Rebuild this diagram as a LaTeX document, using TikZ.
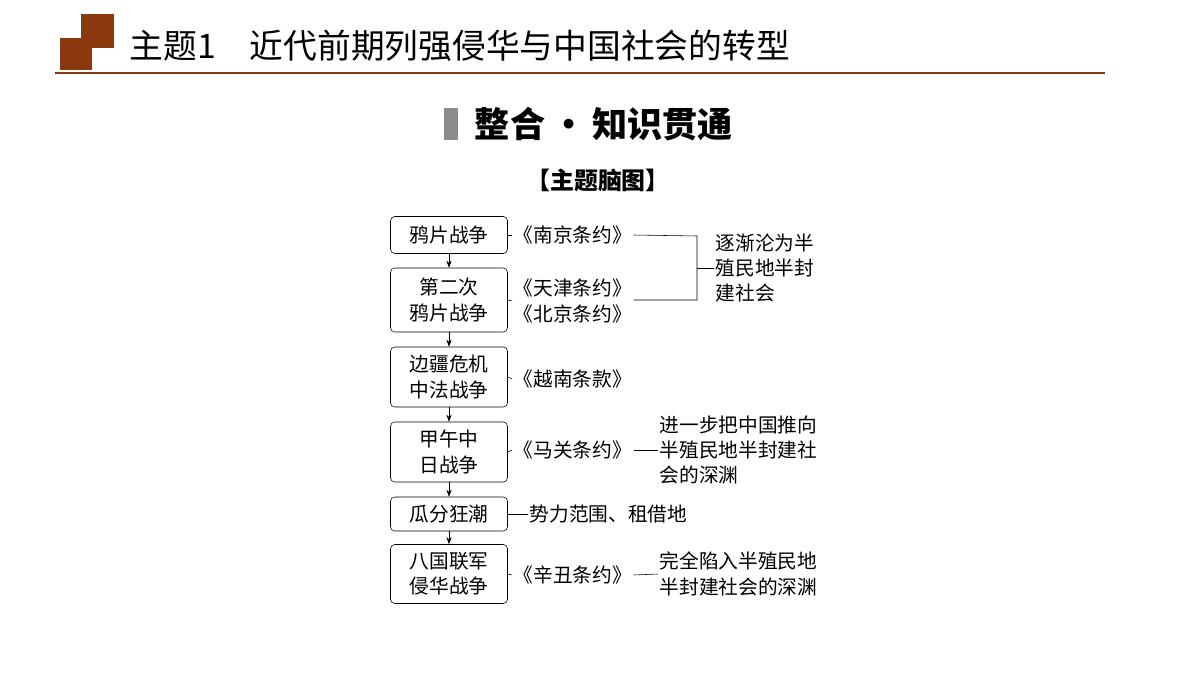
\documentclass[tikz,border=0pt]{standalone}
\usepackage{fontspec}
\setmainfont{Noto Sans CJK SC}
\usetikzlibrary{arrows.meta, positioning}
\definecolor{brownhead}{HTML}{8B3A0F}

\begin{document}
\begin{tikzpicture}[x=0.025cm,y=-0.025cm]
        % --- estilos ---
        \tikzstyle{event} = [
            rectangle,
            rounded corners=3pt,
            minimum width=117*0.025cm,
            align=center,
            draw=black,
            font=\fontsize{14}{18}\selectfont,
            inner sep=2pt
        ]
        \tikzstyle{note} = [align=left, font=\fontsize{14}{18}\selectfont, inner sep=1pt]
        \tikzstyle{arrow} = [thin, -{Stealth[length=5pt]}]
        \tikzstyle{link} = [thin]

        \useasboundingbox (0,0) rectangle (1200,675);

        % --- cabeçalho ---
        \fill[brownhead] (60,38) rectangle (92,70);
        \fill[brownhead] (81,14) rectangle (114,48);
        \draw[brownhead, line width=1.5pt] (55,73) -- (1105,73);
        \node[anchor=west, font=\fontsize{24}{28}\selectfont] (title) at (125,46)
            {主题1\hspace{1em}近代前期列强侵华与中国社会的转型};
        \fill[gray!90] (444,108) rectangle (458,140);
        \node[anchor=west, font=\fontsize{25}{30}\selectfont\bfseries] (head) at (470,124) {整合\,·\,知识贯通};
        \node[font=\fontsize{17}{20}\selectfont\bfseries] (sub) at (598,180) {【主题脑图】};

        % --- nós (etapas) ---
        \node (e1) [event, minimum height=37*0.025cm] at (449,235) {鸦片战争};
        \node (e2) [event, minimum height=64*0.025cm] at (449,300) {第二次\\鸦片战争};
        \node (e3) [event, minimum height=60*0.025cm] at (449,377) {边疆危机\\中法战争};
        \node (e4) [event, minimum height=60*0.025cm] at (449,452) {甲午中\\日战争};
        \node (e5) [event, minimum height=34*0.025cm] at (449,514) {瓜分狂潮};
        \node (e6) [event, minimum height=59*0.025cm] at (449,574) {八国联军\\侵华战争};

        % --- tratados ---
        \node (t1) [note, anchor=west] at (512,235) {《南京条约》};
        \node (t2) [note, anchor=west] at (512,301) {《天津条约》\\《北京条约》};
        \node (t3) [note, anchor=west] at (512,379) {《越南条款》};
        \node (t4) [note, anchor=west] at (512,450) {《马关条约》};
        \node (t5) [note, anchor=west] at (528,514) {势力范围、租借地};
        \node (t6) [note, anchor=west] at (512,575) {《辛丑条约》};

        % --- resultados ---
        \coordinate (b1) at (697,236);
        \coordinate (b2) at (697,300);
        \coordinate (bm) at (697,268);
        \node (r1) [note, anchor=west] at (714,268) {逐渐沦为半\\殖民地半封\\建社会};
        \node (r2) [note, anchor=west] at (658,450) {进一步把中国推向\\半殖民地半封建社\\会的深渊};
        \node (r3) [note, anchor=west] at (658,574) {完全陷入半殖民地\\半封建社会的深渊};

        % --- conexões ---
        \foreach \a/\b in {e1/e2, e2/e3, e3/e4, e4/e5, e5/e6}
            \draw [arrow] (\a) -- (\b);
        \foreach \a/\b in {e1/t1, e2/t2, e3/t3, e4/t4, e5/t5, e6/t6}
            \draw [link] (\a.east) -- (\b.west);
        \draw [link] (t1.east) -- (b1) -- (b2) -- (b2 -| t2.east);
        \draw [link] (bm) -- (r1.west);
        \draw [link] (t4.east) -- (r2.west);
        \draw [link] (t6.east) -- (r3.west);
    \end{tikzpicture}
\end{document}
